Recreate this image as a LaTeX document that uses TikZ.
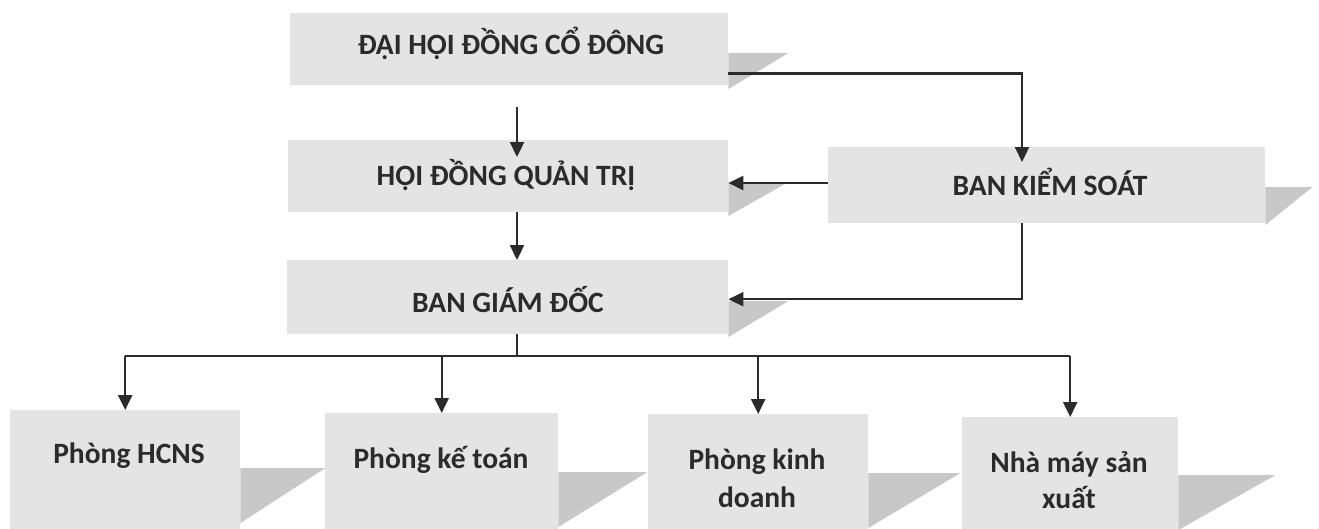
\documentclass[tikz,border=0pt]{standalone}
\usepackage{fontspec}
\setmainfont{Carlito}
\usetikzlibrary{arrows.meta,calc}
\definecolor{boxgray}{HTML}{E4E4E4}
\definecolor{shadegray}{HTML}{C8C8C8}
\definecolor{ink}{HTML}{2B2B2B}
\newcommand\boxshadow[4]{\fill[shadegray] ($(#1.north east)+(0,#2)$) -- ++(#3,0) -- ($(#1.north east)+(0,#2+#4)$) -- cycle;}
\begin{document}
\begin{tikzpicture}[x=1pt,y=-1pt,
  box/.style 2 args={rectangle, fill=boxgray, draw=none, anchor=north west, inner sep=0pt, minimum width=#1, minimum height=#2},
  lbl/.style={font=\fontsize{29.5}{36}\selectfont\bfseries, text=ink, inner sep=0pt, anchor=base},
  conn/.style={draw=ink, line width=2.3pt},
  arr/.style={conn, -{Triangle[length=15pt,width=14pt]}}]
\clip (0,0) rectangle (1319,528);
\fill[white] (0,0) rectangle (1319,528);
% boxes
\node[box={438}{72}] (dh) at (290,13) {};
\node[box={440}{72}] (hd) at (288,140) {};
\node[box={437}{76}] (bks) at (828,147) {};
\node[box={441}{74}] (bgd) at (287,260) {};
\node[box={230}{130}] (p1) at (10,410) {};
\node[box={233}{130}] (p2) at (325,413) {};
\node[box={220}{130}] (p3) at (648,414) {};
\node[box={216}{130}] (p4) at (962,417) {};
% shadows
\boxshadow{dh}{40}{60}{36}
\boxshadow{hd}{42}{60}{34}
\boxshadow{bks}{40}{47}{38}
\boxshadow{bgd}{41}{60}{36}
\boxshadow{p1}{58}{85}{55}
\boxshadow{p2}{59}{89}{55}
\boxshadow{p3}{59}{92}{55}
\boxshadow{p4}{58}{97}{55}
% labels
\node[lbl] (tdh) at (511,54) {ĐẠI HỘI ĐỒNG CỔ ĐÔNG};
\node[lbl] (thd) at (506,185) {HỘI ĐỒNG QUẢN TRỊ};
\node[lbl] (tbks) at (1050,195) {BAN KIỂM SOÁT};
\node[lbl] (tbgd) at (508,312) {BAN GIÁM ĐỐC};
\node[lbl] (tp1) at (129,463) {Phòng HCNS};
\node[lbl] (tp2) at (441,468) {Phòng kế toán};
\node[lbl] (tp3a) at (757,469) {Phòng kinh};
\node[lbl] (tp3b) at (757,507) {doanh};
\node[lbl] (tp4a) at (1069,472) {Nhà máy sản};
\node[lbl] (tp4b) at (1069,508) {xuất};
% connectors
\coordinate (ax) at (517,0);
\coordinate (bx) at (1022,0);
\coordinate (ly) at (0,183);
\coordinate (j) at (517,356);
\draw[arr] ([yshift=-22pt]dh.south -| ax) -- ([yshift=-17pt]hd.north -| ax);
\draw[arr] (hd.south -| ax) -- (bgd.north -| ax);
\draw[arr] ([yshift=12pt]dh.south east) -| ([yshift=-15pt]bks.north -| bx);
\draw[arr] (bks.west |- ly) -- (hd.east |- ly);
\draw[arr] (bks.south -| bx) |- ([yshift=-2pt]bgd.east);
\draw[conn] (bgd.south -| j) -- (j);
\draw[conn] (j -| p1.north) -- (j -| p4.north);
\draw[arr] (j -| p1.north) -- (p1.north);
\draw[arr] (j -| p2.north) -- (p2.north);
\draw[arr] (j -| p3.north) -- (p3.north);
\draw[arr] (j -| p4.north) -- (p4.north);
\end{tikzpicture}
\end{document}
